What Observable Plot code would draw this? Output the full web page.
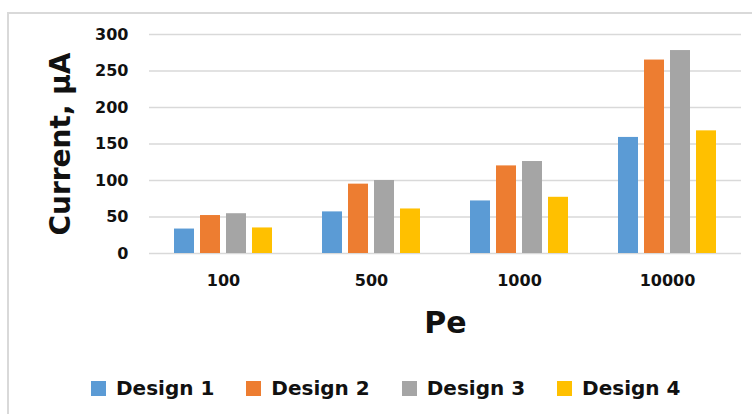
<!DOCTYPE html>
<html>
<head>
<meta charset="utf-8">
<script src="https://cdn.jsdelivr.net/npm/d3@7"></script>
<script src="https://cdn.jsdelivr.net/npm/@observablehq/plot@0.6"></script>
<style>
  html, body { margin: 0; padding: 0; background: #fff; width: 752px; height: 414px; overflow: hidden; }
  #wrap { position: relative; width: 752px; height: 414px; }
  #frame { position: absolute; left: 7px; top: 12px; width: 820px; height: 520px; border: 2px solid #d9d9d9; box-sizing: border-box; z-index: 2; pointer-events: none; }
  #legend { display: flex; align-items: center; height: 18px; margin-top: 27px; padding-left: 91px;
            font-family: "DejaVu Sans", sans-serif; font-weight: bold; font-size: 20px; color: #111; }
  #legend .item { display: flex; align-items: center; margin-right: 32px; }
  #legend .sw { width: 15px; height: 15px; margin-right: 10px; }
</style>
</head>
<body>
<div id="wrap">
  <div id="chart"></div>
  <div id="legend"></div>
  <div id="frame"></div>
</div>
<script>
// Péclet numbers (x groups) and the four electrode designs
const pe = ["100", "500", "1000", "10000"];
const designs = ["Design 1", "Design 2", "Design 3", "Design 4"];
const colors = ["#5b9bd5", "#ed7d31", "#a5a5a5", "#ffc000"];

// Current (µA) per design, one value per Pe group
const design1 = [33.5, 57, 72, 159];
const design2 = [52, 95, 120, 265];
const design3 = [54.5, 100, 126, 278];
const design4 = [35, 61, 77, 168];

const yTicks = [0, 50, 100, 150, 200, 250, 300];

const series = [design1, design2, design3, design4];
const rows = pe.flatMap((p, i) => designs.map((d, j) => ({pe: p, design: d, value: series[j][i]})));

const font = {fontFamily: "DejaVu Sans, sans-serif", fontWeight: "bold", fontSize: 16};

const chart = Plot.plot({
  width: 752,
  height: 352,
  marginLeft: 148,
  marginRight: 11,
  marginTop: 34,
  marginBottom: 99,
  style: {background: "transparent", color: "#111"},
  fx: {domain: pe, padding: 0},
  x: {domain: designs, paddingInner: 0.22, paddingOuter: 0.865, axis: null},
  y: {domain: [0, 300]},
  color: {domain: designs, range: colors},
  marks: [
    Plot.ruleY(yTicks, {stroke: "#d9d9d9", strokeWidth: 1.4}),
    Plot.barY(rows, {fx: "pe", x: "design", y: "value", fill: "design"}),
    Plot.axisY({ticks: yTicks, tickSize: 0, tickPadding: 21, ...font,
                label: "Current, μA", labelAnchor: "center", labelOffset: 99, labelArrow: false}),
    Plot.axisFx({anchor: "bottom", tickSize: 0, tickPadding: 21, ...font,
                 label: "Pe", labelAnchor: "center", labelOffset: 79, labelArrow: false})
  ]
});

// Larger type for the two axis titles
for (const t of chart.querySelectorAll("text")) {
  const s = t.textContent.trim();
  if (s === "Current, μA") t.style.fontSize = "28px";
  if (s === "Pe") t.style.fontSize = "30px";
}
document.getElementById("chart").appendChild(chart);

// Legend swatches
const legend = document.getElementById("legend");
designs.forEach((d, i) => {
  const item = document.createElement("div");
  item.className = "item";
  const sw = document.createElement("span");
  sw.className = "sw";
  sw.style.background = colors[i];
  const lab = document.createElement("span");
  lab.textContent = d;
  item.append(sw, lab);
  legend.appendChild(item);
});
</script>
</body>
</html>
